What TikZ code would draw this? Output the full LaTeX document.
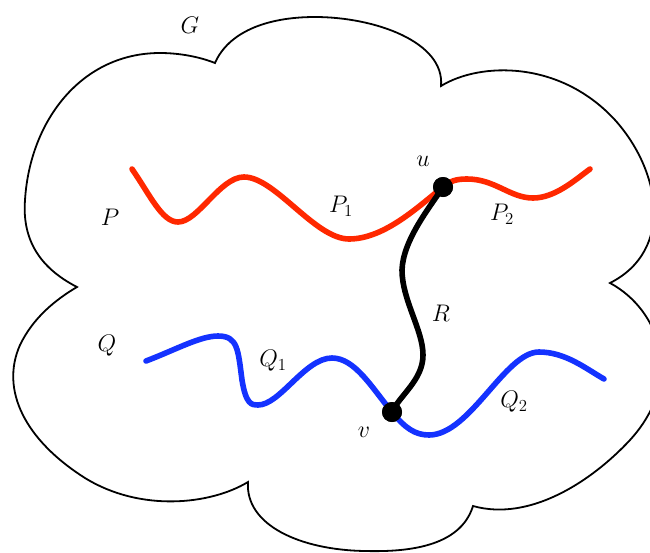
\documentclass[tikz,border=0pt]{standalone}
\usepackage{fix-cm}
\definecolor{pred}{RGB}{255,40,0}
\definecolor{qblue}{RGB}{20,50,255}
\begin{document}
\begin{tikzpicture}[x=1pt,y=-1pt,
  outline/.style={line width=1.8pt,line join=miter},
  ppath/.style={draw=pred,line width=5.6pt,line cap=round,line join=round},
  qpath/.style={draw=qblue,line width=5.6pt,line cap=round,line join=round},
  rpath/.style={draw=black,line width=5.6pt,line cap=round,line join=round},
  vert/.style={circle,fill=black,inner sep=0pt,minimum size=20pt},
  lbl/.style={inner sep=0pt,font=\fontsize{24}{28}\selectfont}]
\useasboundingbox (0,0) rectangle (650,552);
% cloud G
\coordinate (cA) at (215,63);
\coordinate (cB) at (441,86);
\coordinate (cC) at (610,283);
\coordinate (cD) at (473,506);
\coordinate (cE) at (248,482);
\coordinate (cF) at (77,287);
\draw[outline] (cA)
  .. controls (228,33) and (265,17) .. (315,17)
  .. controls (375,17) and (445,42) .. (cB)
  .. controls (480,62) and (560,60) .. (615,120)
  .. controls (660,170) and (675,250) .. (cC)
  .. controls (660,310) and (685,380) .. (630,440)
  .. controls (592,481) and (530,522) .. (cD)
  .. controls (460,548) and (405,552) .. (365,551)
  .. controls (300,550) and (245,525) .. (cE)
  .. controls (210,505) and (140,512) .. (85,478)
  .. controls (25,440) and (0,390) .. (20,345)
  .. controls (33,318) and (55,300) .. (cF)
  .. controls (40,268) and (22,240) .. (25,200)
  .. controls (30,120) and (82,53) .. (160,53)
  .. controls (180,53) and (200,57) .. (cA) -- cycle;
% vertices
\node[vert] (u) at (443,187) {};
\node[vert] (v) at (392,412) {};
% path P
\coordinate (p0) at (132,169);
\coordinate (p1) at (590,169);
\draw[ppath] (p0)
  .. controls (150,195) and (162,222) .. (178,222)
  .. controls (198,222) and (220,177) .. (244,177)
  .. controls (275,177) and (315,239) .. (349,239)
  .. controls (385,239) and (420,205) .. (u.center)
  .. controls (450,181) and (456,179) .. (467,179)
  .. controls (495,179) and (510,198) .. (533,198)
  .. controls (555,198) and (575,180) .. (p1);
% path Q
\coordinate (q0) at (146,361);
\coordinate (q1) at (604,379);
\draw[qpath] (q0)
  .. controls (175,350) and (200,336) .. (218,336)
  .. controls (238,336) and (238,350) .. (242,380)
  .. controls (246,405) and (252,405) .. (258,405)
  .. controls (280,405) and (305,358) .. (332,358)
  .. controls (355,358) and (372,388) .. (v.center)
  .. controls (405,428) and (415,435) .. (429,435)
  .. controls (470,435) and (505,352) .. (539,352)
  .. controls (565,352) and (585,368) .. (q1);
% path R
\draw[rpath] (u.center)
  .. controls (430,207) and (403,240) .. (402,270)
  .. controls (402,300) and (423,330) .. (423,355)
  .. controls (423,380) and (400,395) .. (v.center);
\node[vert] at (u) {};
\node[vert] at (v) {};
% labels
\node[lbl] (lG) at (190,25) {$G$};
\node[lbl] (lu) at (423,161) {$u$};
\node[lbl] (lP) at (110,217) {$P$};
\node[lbl] (lP1) at (341,206) {$P_1$};
\node[lbl] (lP2) at (502,214) {$P_2$};
\node[lbl] (lR) at (441,313) {$R$};
\node[lbl] (lQ) at (107,346) {$Q$};
\node[lbl] (lQ1) at (273,361) {$Q_1$};
\node[lbl] (lQ2) at (514,402) {$Q_2$};
\node[lbl] (lv) at (364,432) {$v$};
\end{tikzpicture}
\end{document}
